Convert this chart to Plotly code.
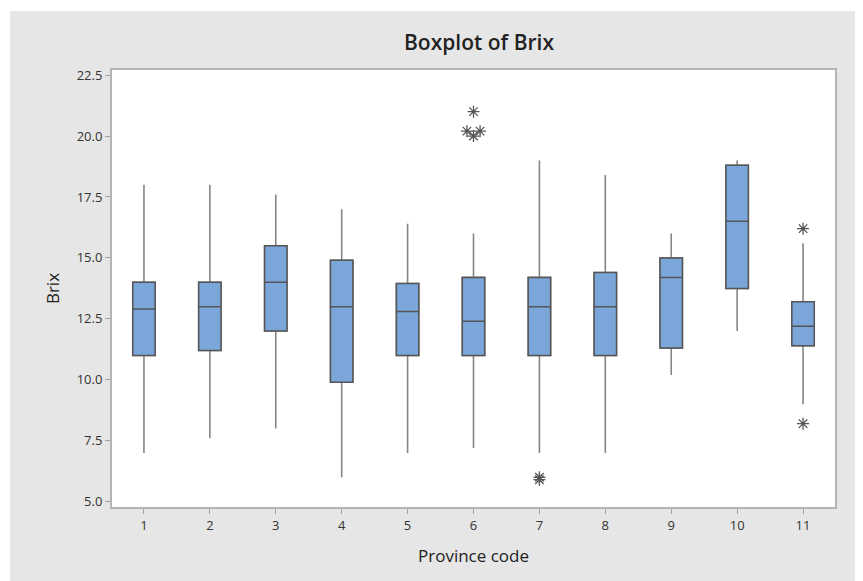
import plotly.graph_objects as go

# ---- data ----
provinces = [1, 2, 3, 4, 5, 6, 7, 8, 9, 10, 11]
tick_labels = ["1", "2", "3", "4", "5", "6", "7", "8", "9", "10", "11"]
lower_whisker = [7.0, 7.6, 8.0, 6.0, 7.0, 7.2, 7.0, 7.0, 10.2, 12.0, 9.0]
q1_values = [11.0, 11.2, 12.0, 9.9, 11.0, 11.0, 11.0, 11.0, 11.3, 13.75, 11.4]
median_values = [12.9, 13.0, 14.0, 13.0, 12.8, 12.4, 13.0, 13.0, 14.2, 16.5, 12.2]
q3_values = [14.0, 14.0, 15.5, 14.9, 13.95, 14.2, 14.2, 14.4, 15.0, 18.8, 13.2]
upper_whisker = [18.0, 18.0, 17.6, 17.0, 16.4, 16.0, 19.0, 18.4, 16.0, 19.0, 15.6]
outlier_province = [6, 6, 6, 6, 7, 7, 11, 11]
outlier_values = [21.0, 20.2, 20.2, 20.0, 6.0, 5.9, 16.2, 8.2]
y_ticks = [5.0, 7.5, 10.0, 12.5, 15.0, 17.5, 20.0, 22.5]

# ---- styles ----
BOX_FILL = "#7aa6da"
BOX_LINE = "#555555"
WHISKER = "#858585"
PANEL = "#e6e6e6"
FONT = "Open Sans"

# spread tied outliers sideways (as Minitab does)
outlier_x = []
seen = {}
for p, v in zip(outlier_province, outlier_values):
    n_same = sum(1 for pp, vv in zip(outlier_province, outlier_values) if pp == p and vv == v)
    k = seen.get((p, v), 0)
    seen[(p, v)] = k + 1
    off = 0.0 if n_same == 1 else (k - (n_same - 1) / 2) * 0.2
    outlier_x.append(p + off)

fig = go.Figure()
# whiskers (lighter gray)
fig.add_trace(go.Box(
    x=provinces,
    q1=q1_values, median=median_values, q3=q3_values,
    lowerfence=lower_whisker, upperfence=upper_whisker,
    boxpoints=False, width=0.34, whiskerwidth=0,
    fillcolor=BOX_FILL, line=dict(color=WHISKER, width=1.6),
    showlegend=False, hoverinfo="skip",
))
# boxes with darker outline
fig.add_trace(go.Box(
    x=provinces,
    q1=q1_values, median=median_values, q3=q3_values,
    lowerfence=q1_values, upperfence=q3_values,
    boxpoints=False, width=0.34, whiskerwidth=0,
    fillcolor=BOX_FILL, line=dict(color=BOX_LINE, width=1.5),
    showlegend=False, hoverinfo="skip",
))
fig.add_trace(go.Scatter(
    x=outlier_x, y=outlier_values, mode="markers",
    marker=dict(symbol="asterisk-open", size=10, color="#555555",
                line=dict(color="#555555", width=1.3)),
    showlegend=False, hoverinfo="skip",
))

W, H = 855, 573          # page body has an 8px margin
L, R, T, B = 103, 27, 61, 73
pw, ph = W - L - R, H - T - B

fig.update_layout(
    width=W, height=H,
    boxmode="overlay",
    margin=dict(l=L, r=R, t=T, b=B),
    paper_bgcolor="white",
    plot_bgcolor="white",
    font=dict(family=FONT, color="#333333"),
    title=dict(text="Boxplot of Brix", x=434 / W, xanchor="center",
               y=1 - 35 / H, yanchor="middle", xref="paper", yref="container",
               font=dict(family=FONT, size=21, color="#222222", weight=600)),
    shapes=[
        dict(type="rect", xref="paper", yref="paper", layer="below",
             x0=(2 - L) / pw, x1=(W - L) / pw + 0.02,
             y0=-(B + 2) / ph, y1=(ph + T - 3) / ph,
             fillcolor=PANEL, line=dict(width=0)),
        dict(type="rect", xref="paper", yref="paper", layer="below",
             x0=0, x1=1, y0=0, y1=1,
             fillcolor="white", line=dict(color="#b4b4b4", width=2)),
    ],
    xaxis=dict(
        range=[0.5, 11.5], tickmode="array", tickvals=provinces, ticktext=tick_labels,
        ticks="outside", ticklen=5, tickcolor="#a0a0a0", tickwidth=1,
        showgrid=False, zeroline=False, showline=False,
        tickfont=dict(size=13, color="#333333"),
        title=dict(text="Province code", standoff=17,
                   font=dict(size=17, color="#222222")),
    ),
    yaxis=dict(
        range=[4.74, 22.75], tickmode="array", tickvals=y_ticks, tickformat=".1f",
        ticks="outside", ticklen=5, tickcolor="#a0a0a0", tickwidth=1,
        showgrid=False, zeroline=False, showline=False,
        tickfont=dict(size=13, color="#333333"),
        title=dict(text="Brix", standoff=12,
                   font=dict(size=17, color="#222222")),
    ),
)

fig.write_html("out.html")
